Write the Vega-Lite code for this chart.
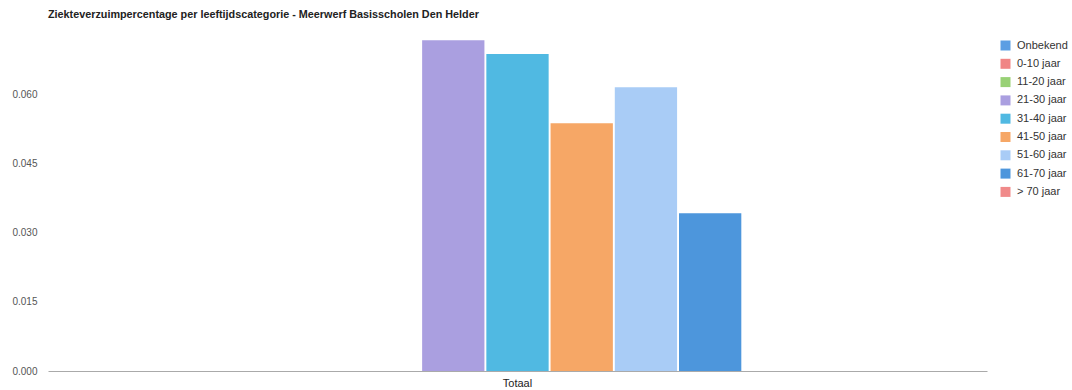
{
  "$schema": "https://vega.github.io/schema/vega-lite/v6.json",
  "autosize": "none",
  "width": 939,
  "height": 346,
  "padding": {"left": 48, "top": 25, "right": 85, "bottom": 19},
  "background": "white",
  "title": {
    "text": "Ziekteverzuimpercentage per leeftijdscategorie - Meerwerf Basisscholen Den Helder",
    "anchor": "start",
    "frame": "group",
    "font": "Liberation Sans",
    "fontSize": 10.8,
    "fontWeight": "bold",
    "color": "#222222",
    "offset": 5
  },
  "config": {
    "view": {"stroke": null},
    "font": "Liberation Sans"
  },
  "data": {
    "values": [
      {"groep": "Totaal", "leeftijd": "Onbekend", "percentage": 0},
      {"groep": "Totaal", "leeftijd": "0-10 jaar", "percentage": 0},
      {"groep": "Totaal", "leeftijd": "11-20 jaar", "percentage": 0},
      {"groep": "Totaal", "leeftijd": "21-30 jaar", "percentage": 0.0717},
      {"groep": "Totaal", "leeftijd": "31-40 jaar", "percentage": 0.0687},
      {"groep": "Totaal", "leeftijd": "41-50 jaar", "percentage": 0.0537},
      {"groep": "Totaal", "leeftijd": "51-60 jaar", "percentage": 0.0615},
      {"groep": "Totaal", "leeftijd": "61-70 jaar", "percentage": 0.0342},
      {"groep": "Totaal", "leeftijd": "> 70 jaar", "percentage": 0}
    ]
  },
  "mark": {"type": "bar"},
  "encoding": {
    "x": {
      "field": "groep",
      "type": "nominal",
      "scale": {"paddingInner": 0, "paddingOuter": 0.315},
      "axis": {
        "title": null,
        "labelAngle": 0,
        "labelFontSize": 11,
        "labelColor": "#222222",
        "labelPadding": 6,
        "ticks": false,
        "domainColor": "#aaaaaa",
        "domainWidth": 1
      }
    },
    "xOffset": {
      "field": "leeftijd",
      "type": "nominal",
      "sort": ["Onbekend", "0-10 jaar", "11-20 jaar", "21-30 jaar", "31-40 jaar", "41-50 jaar", "51-60 jaar", "61-70 jaar", "> 70 jaar"],
      "scale": {"paddingInner": 0.03, "paddingOuter": 0}
    },
    "y": {
      "field": "percentage",
      "type": "quantitative",
      "scale": {"domain": [0, 0.075], "nice": false},
      "axis": {
        "title": null,
        "values": [0, 0.015, 0.03, 0.045, 0.06],
        "format": ".3f",
        "grid": false,
        "ticks": false,
        "domain": false,
        "labelFontSize": 10,
        "labelColor": "#555555",
        "labelPadding": 11
      }
    },
    "color": {
      "field": "leeftijd",
      "type": "nominal",
      "scale": {
        "domain": ["Onbekend", "0-10 jaar", "11-20 jaar", "21-30 jaar", "31-40 jaar", "41-50 jaar", "51-60 jaar", "61-70 jaar", "> 70 jaar"],
        "range": ["#5b9ee3", "#f08585", "#98d175", "#aa9fe0", "#50b9e2", "#f6a766", "#a9ccf6", "#4d96dc", "#f08a8a"]
      },
      "legend": {
        "title": null,
        "orient": "none",
        "legendX": 952,
        "legendY": 15,
        "symbolType": "square",
        "symbolSize": 100,
        "symbolStrokeWidth": 0,
        "labelFontSize": 11,
        "labelColor": "#333333",
        "labelOffset": 6,
        "rowPadding": 6.3
      }
    }
  }
}
